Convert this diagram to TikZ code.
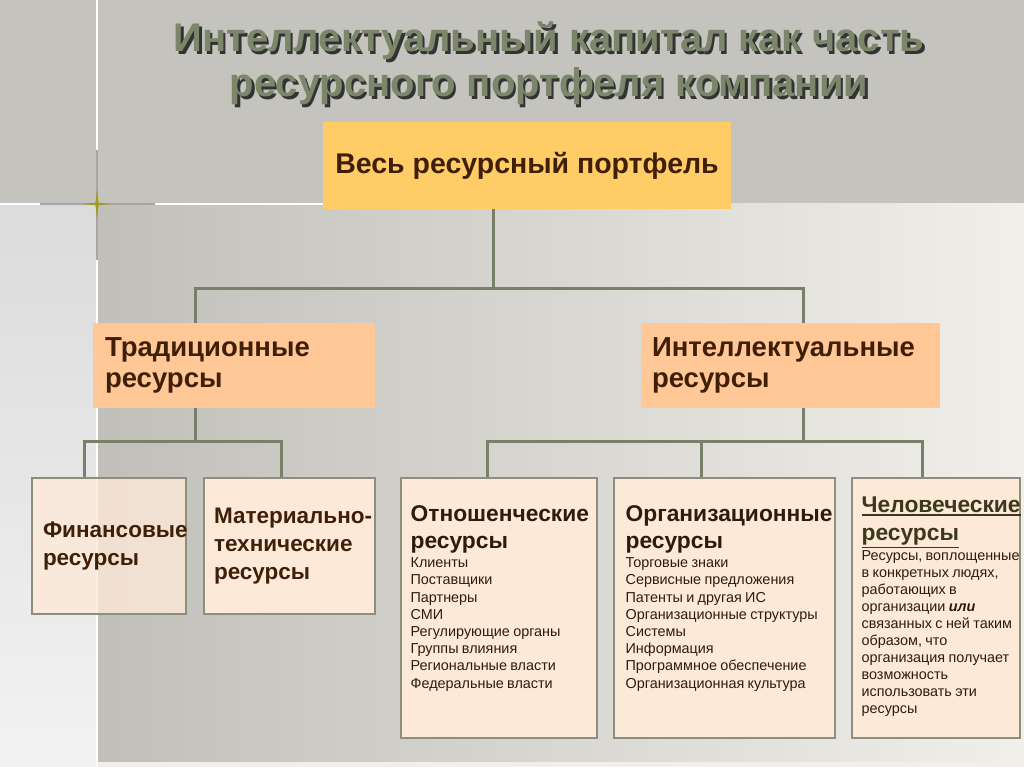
\documentclass[tikz,border=0pt]{standalone}
\usepackage{fontspec}
\setmainfont{Liberation Sans}
\usetikzlibrary{positioning}

\definecolor{slidegray}{HTML}{C4C3BD}
\definecolor{slidedark}{HTML}{C0BFB9}
\definecolor{slidelight}{HTML}{F0EFE9}
\definecolor{titlegreen}{HTML}{7C866A}
\definecolor{linkgreen}{HTML}{78806A}
\definecolor{topfill}{HTML}{FFCC66}
\definecolor{midfill}{HTML}{FFC896}
\definecolor{lowfill}{HTML}{FDE9D8}
\definecolor{lowedge}{HTML}{8E8E7C}
\definecolor{darkbrown}{HTML}{3F1F08}
\definecolor{bodyink}{HTML}{2B1D0E}
\definecolor{humink}{HTML}{3B381C}
\definecolor{starcol}{HTML}{A39A20}

\newcommand\ulword[1]{\vtop{\hbox{#1}\kern1.5pt\hrule height 1.8pt}}
\newcommand\shadowed[1]{\makebox[0pt][l]{\kern2.5pt\raisebox{-2.5pt}{\color{black!80}#1}}#1}

\begin{document}
\begin{tikzpicture}[x=1pt,y=-1pt,
    link/.style={draw=linkgreen, line width=3pt},
    titlefont/.style={font=\bfseries\fontsize{40}{45}\selectfont, align=center},
    topbox/.style={fill=topfill, minimum width=408pt, minimum height=87pt,
        font=\bfseries\fontsize{28.5}{33}\selectfont, text=darkbrown},
    midbox/.style={fill=midfill, minimum height=85pt, inner ysep=0pt, align=left,
        font=\bfseries\fontsize{27.5}{31}\selectfont, text=darkbrown},
    lowbox/.style={draw=lowedge, line width=1.2pt, fill=lowfill, inner ysep=0pt},
    lowhead/.style={font=\bfseries\fontsize{22.5}{28}\selectfont, text=darkbrown, align=left},
    listtext/.style={anchor=north west, inner sep=0pt, align=left, text=bodyink}
  ]
    \useasboundingbox (0,0) rectangle (1024,767);

    % Slide background
    \fill[slidegray] (0,0) rectangle (1024,767);
    \shade[left color=slidedark, right color=slidelight] (97,204) rectangle (1024,762);
    \shade[top color=black!14!white, bottom color=black!5!white] (0,204) rectangle (97,767);
    \fill[slidelight] (97,762) rectangle (1024,767);

    % Thin lines and star
    \draw[white, line width=1.5pt] (97,0) -- (97,767);
    \draw[white, line width=1.5pt] (0,204) -- (323,204);
    \draw[black!35, line width=1.5pt] (97,150) -- (97,260);
    \draw[black!35, line width=1.5pt] (40,204) -- (155,204);
    \fill[starcol] (82,204) -- (95.5,202.7) -- (97,189) -- (98.5,202.7) -- (112,204)
        -- (98.5,205.3) -- (97,219) -- (95.5,205.3) -- cycle;

    % Title with shadow
    \node[titlefont, text=titlegreen] (title) at (549,65)
        {\shadowed{Интеллектуальный капитал как часть}\\\shadowed{ресурсного портфеля компании}};

    % Boxes
    \node[topbox] (top) at (527,165.5) {Весь ресурсный портфель};
    \node[midbox, text width=258pt, inner xsep=12pt] (trad) at (234,365.5)
        {Традиционные\\ресурсы};
    \node[midbox, text width=277pt, inner xsep=11pt] (intel) at (790.5,365.5)
        {Интеллектуальные\\ресурсы};

    \node[lowbox, lowhead, fill opacity=0.8, text opacity=1, minimum height=136pt,
        text width=132pt, inner xsep=11pt] (fin) at (109,546)
        {Финансовые\\ресурсы};
    \node[lowbox, lowhead, minimum height=136pt, text width=151pt, inner xsep=10pt]
        (mat) at (289.5,546) {\mbox{Материально-}\\технические\\ресурсы};
    \node[lowbox, minimum width=196pt, minimum height=260pt] (rel) at (499,608) {};
    \node[lowbox, minimum width=221pt, minimum height=260pt] (org) at (724.5,608) {};
    \node[lowbox, minimum width=168pt, minimum height=260pt] (hum) at (936,608) {};

    % Box texts
    \node[listtext, text width=184pt] (reltext) at ([shift={(10,28)}]rel.north west)
        {{\bfseries\fontsize{22.8}{27}\selectfont Отношенческие\\ресурсы\par}
         \vspace{2pt}\fontsize{14.4}{17.2}\selectfont
         Клиенты\\Поставщики\\Партнеры\\СМИ\\Регулирующие органы\\Группы влияния\\
         Региональные власти\\Федеральные власти\par};
    \node[listtext, text width=208pt] (orgtext) at ([shift={(12,28)}]org.north west)
        {{\bfseries\fontsize{22.8}{27}\selectfont Организационные\\ресурсы\par}
         \vspace{2pt}\fontsize{14.4}{17.2}\selectfont
         Торговые знаки\\Сервисные предложения\\Патенты и другая ИС\\
         Организационные структуры\\Системы\\Информация\\
         Программное обеспечение\\Организационная культура\par};
    \node[listtext, text width=166pt] (humtext) at ([shift={(10,19)}]hum.north west)
        {{\bfseries\fontsize{22.8}{28}\selectfont\color{humink}
          \ulword{Человеческие}\\\ulword{ресурсы}\par}
         \vspace{1.5pt}\fontsize{14.4}{17}\selectfont
         Ресурсы, воплощенные\\в конкретных людях,\\работающих в\\
         организации \textbf{\textit{или}}\\связанных с ней таким\\образом, что\\
         организация получает\\возможность\\использовать эти\\ресурсы\par};

    % Connectors: top level
    \draw[link] ([xshift=-34pt]top.south) -- ++(0,80);
    \draw[link] ([xshift=-39pt]trad.north) -- ++(0,-34) -| ([xshift=12.5pt]intel.north);

    % Connectors: traditional resources
    \draw[link] ([xshift=-39pt]trad.south) -- ++(0,34);
    \draw[link] ([xshift=-25pt]fin.north) -- ++(0,-36) -| ([xshift=-8.5pt]mat.north);

    % Connectors: intellectual resources
    \draw[link] ([xshift=12.5pt]intel.south) -- ++(0,34);
    \draw[link] ([xshift=-12pt]rel.north) -- ++(0,-36) -| ([xshift=-14pt]hum.north);
    \draw[link] ([xshift=-23.5pt]org.north) -- ++(0,-36);
\end{tikzpicture}
\end{document}
